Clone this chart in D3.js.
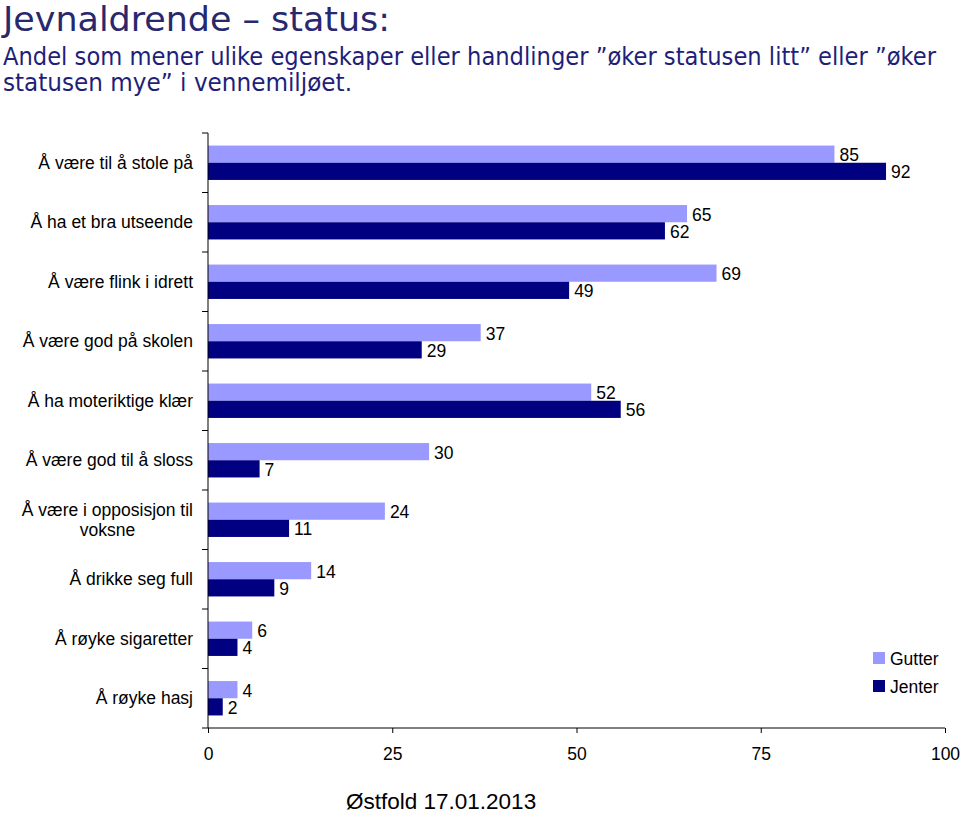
<!DOCTYPE html>
<html><head><meta charset="utf-8">
<script src="https://cdn.jsdelivr.net/npm/d3@7"></script>
<style>body{margin:0;background:#fff}svg{display:block}</style>
</head><body>
<script>
const categories = [
  "Å være til å stole på",
  "Å ha et bra utseende",
  "Å være flink i idrett",
  "Å være god på skolen",
  "Å ha moteriktige klær",
  "Å være god til å sloss",
  "Å være i opposisjon til voksne",
  "Å drikke seg full",
  "Å røyke sigaretter",
  "Å røyke hasj"
];
const gutter = [85, 65, 69, 37, 52, 30, 24, 14, 6, 4];
const jenter = [92, 62, 49, 29, 56, 7, 11, 9, 4, 2];
const seriesNames = ["Gutter", "Jenter"];
const xTicks = [0, 25, 50, 75, 100];
const labelLines = {"Å være i opposisjon til voksne": ["Å være i opposisjon til", "voksne"]};

const W = 960, H = 813;
const svg = d3.select("body").append("svg").attr("width", W).attr("height", H);
const colors = {Gutter: "#9999FF", Jenter: "#000080"};
const font = "Arial, 'Liberation Sans', sans-serif";
const fs = 17.5;

// Titles
const tfont = "'DejaVu Sans Condensed','DejaVu Sans',sans-serif";
svg.append("text").attr("x", 3).attr("y", 31)
  .attr("font-family", tfont).attr("font-size", 34).attr("fill", "#28286E")
  .attr("textLength", 387).attr("lengthAdjust", "spacingAndGlyphs")
  .text("Jevnaldrende – status:");
svg.append("text").attr("x", 3).attr("y", 65)
  .attr("font-family", tfont).attr("font-size", 24).attr("fill", "#1F1F7A")
  .attr("textLength", 933).attr("lengthAdjust", "spacingAndGlyphs")
  .text("Andel som mener ulike egenskaper eller handlinger ”øker statusen litt” eller ”øker");
svg.append("text").attr("x", 3).attr("y", 91)
  .attr("font-family", tfont).attr("font-size", 24).attr("fill", "#1F1F7A")
  .attr("textLength", 349).attr("lengthAdjust", "spacingAndGlyphs")
  .text("statusen mye” i vennemiljøet.");

const x = d3.scaleLinear().domain([0, 100]).range([208, 945]);
const y = d3.scaleBand().domain(categories).range([133, 728]).paddingInner(0).paddingOuter(0);
const ySub = d3.scaleBand().domain(seriesNames).range([0, y.bandwidth()]).paddingInner(0).paddingOuter(0.73);

// bars
const data = categories.map((c, i) => ({cat: c, vals: [{s: "Gutter", v: gutter[i]}, {s: "Jenter", v: jenter[i]}]}));
const g = svg.append("g");
const groups = g.selectAll("g.cat").data(data).join("g").attr("transform", d => `translate(0,${y(d.cat)})`);
groups.selectAll("rect").data(d => d.vals).join("rect")
  .attr("x", x(0)).attr("y", d => ySub(d.s))
  .attr("width", d => x(d.v) - x(0)).attr("height", ySub.bandwidth())
  .attr("fill", d => colors[d.s]);
groups.selectAll("text.val").data(d => d.vals).join("text").attr("class", "val")
  .attr("x", d => x(d.v) + 5).attr("y", d => ySub(d.s) + ySub.bandwidth() / 2 + 7)
  .attr("font-family", font).attr("font-size", fs).attr("fill", "#000")
  .text(d => d.v);

// y axis
const yAxis = d3.axisLeft(y).tickSize(0).tickFormat("");
const yg = svg.append("g").attr("transform", `translate(${x(0)},0)`).call(yAxis);
yg.select(".domain").attr("stroke", "#000").attr("d", `M0,${y.range()[0]}V${y.range()[1]}`);
const bounds = d3.range(categories.length + 1).map(i => y.range()[0] + i * y.step());
yg.selectAll("line.bt").data(bounds).join("line").attr("class", "bt")
  .attr("x1", -6).attr("x2", 0).attr("y1", d => d).attr("y2", d => d).attr("stroke", "#000");

// category labels
categories.forEach(c => {
  const lines = labelLines[c] || [c];
  const cy = y(c) + y.bandwidth() / 2;
  if (lines.length === 1) {
    svg.append("text").attr("x", 193).attr("y", cy + 6).attr("text-anchor", "end")
      .attr("font-family", font).attr("font-size", fs).text(c);
  } else {
    const tmp = svg.append("text").attr("font-family", font).attr("font-size", fs).text(lines[0]);
    const w = tmp.node().getComputedTextLength(); tmp.remove();
    const cx = 193 - w / 2;
    lines.forEach((ln, k) => {
      svg.append("text").attr("x", cx).attr("y", cy + 6 + (k - (lines.length - 1) / 2) * 20)
        .attr("text-anchor", "middle").attr("font-family", font).attr("font-size", fs).text(ln);
    });
  }
});

// x axis
const xAxis = d3.axisBottom(x).tickValues(xTicks).tickSize(5).tickPadding(15);
const xg = svg.append("g").attr("transform", `translate(0,728)`).call(xAxis);
xg.select(".domain").attr("d", `M${x(0)},0H${x(100)}`);
xg.selectAll("text").attr("font-family", font).attr("font-size", fs).attr("fill", "#000");
xg.selectAll("line").attr("stroke", "#000");

// legend
const lg = svg.append("g");
seriesNames.forEach((s, i) => {
  lg.append("rect").attr("x", 873).attr("y", 652 + i * 28).attr("width", 12).attr("height", 12).attr("fill", colors[s]);
  lg.append("text").attr("x", 890).attr("y", 665 + i * 28).attr("font-family", font).attr("font-size", fs).text(s);
});

// footer
svg.append("text").attr("x", 346).attr("y", 809).attr("font-family", font).attr("font-size", 22.5).text("Østfold 17.01.2013");
</script>
</body></html>
